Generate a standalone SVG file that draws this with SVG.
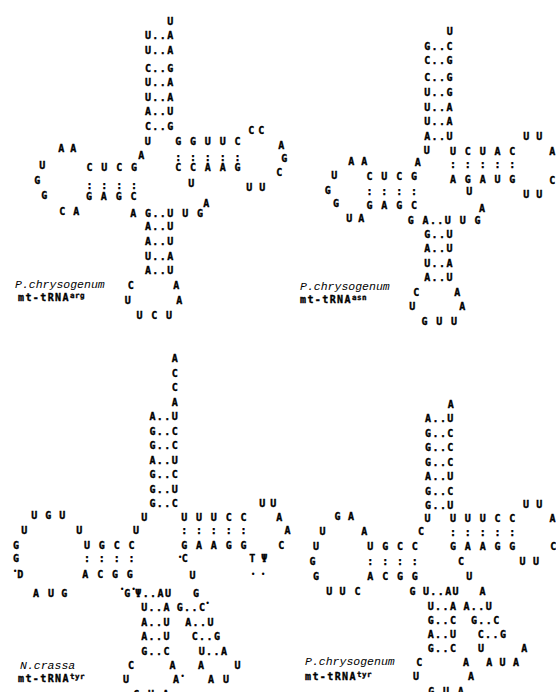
<svg xmlns="http://www.w3.org/2000/svg" width="556" height="692" viewBox="0 0 556 692">
<style>
.b{font-family:"DejaVu Sans Mono","Liberation Mono",monospace;font-weight:bold;font-size:10px;letter-spacing:1.4px;text-anchor:middle;fill:#000;stroke:#000;stroke-width:0.35px}
.d{font-family:"DejaVu Sans",sans-serif;font-size:8px;text-anchor:middle;fill:#000}
.sp{font-family:"Liberation Mono",monospace;font-style:italic;font-size:11.5px;fill:#000}
.lb{font-family:"DejaVu Sans Mono","Liberation Mono",monospace;font-weight:bold;font-size:10px;letter-spacing:1.4px;fill:#000;stroke:#000;stroke-width:0.35px}
.sup{font-size:7.5px;letter-spacing:0.5px}
</style>
<rect width="556" height="692" fill="#fff"/>
<g id="trna-arg">
<text class="b" x="171" y="24.5">U</text>
<text class="b" x="159.8" y="39">U..A</text>
<text class="b" x="159.8" y="53.5">U..A</text>
<text class="b" x="159.8" y="71.5">C..G</text>
<text class="b" x="159.8" y="86">U..A</text>
<text class="b" x="159.8" y="100.5">U..A</text>
<text class="b" x="159.8" y="115">A..U</text>
<text class="b" x="159.8" y="129.5">C..G</text>
<text class="b" x="148.5" y="144.5">U</text>
<text class="b" x="208.6" y="145">G G U U C</text>
<text class="b" x="208.6" y="161">: : : : :</text>
<text class="b" x="208.6" y="171">C C A A G</text>
<text class="b" x="252" y="133.5">C</text>
<text class="b" x="262" y="133.5">C</text>
<text class="b" x="282" y="149">A</text>
<text class="b" x="285" y="161.5">G</text>
<text class="b" x="280" y="175.5">C</text>
<text class="b" x="250" y="190.5">U</text>
<text class="b" x="263" y="190.5">U</text>
<text class="b" x="192" y="187">U</text>
<text class="b" x="207" y="207">A</text>
<text class="b" x="142" y="159">A</text>
<text class="b" x="62" y="152">A</text>
<text class="b" x="74" y="152">A</text>
<text class="b" x="43" y="168.5">U</text>
<text class="b" x="112.5" y="171">C U C G</text>
<text class="b" x="38" y="183.5">G</text>
<text class="b" x="112.5" y="188.5">: : : :</text>
<text class="b" x="45" y="198.5">G</text>
<text class="b" x="112" y="199.5">G A G C</text>
<text class="b" x="63" y="214.5">C</text>
<text class="b" x="77" y="214.5">A</text>
<text class="b" x="167.3" y="217">A G..U U G</text>
<text class="b" x="159.8" y="229.5">A..U</text>
<text class="b" x="159.8" y="244.5">A..U</text>
<text class="b" x="159.8" y="259.5">U..A</text>
<text class="b" x="159.8" y="274">A..U</text>
<text class="b" x="131.5" y="288.5">C</text>
<text class="b" x="177" y="288.5">A</text>
<text class="b" x="128.5" y="303.5">U</text>
<text class="b" x="180" y="303.5">A</text>
<text class="b" x="155" y="318.5">U C U</text>
<text class="sp" x="15" y="288">P.chrysogenum</text>
<text class="lb" x="18" y="301">mt-tRNA<tspan class="sup" dy="-3.5">arg</tspan></text>
</g>
<g id="trna-asn">
<text class="b" x="450.5" y="35">U</text>
<text class="b" x="439" y="49.5">G..C</text>
<text class="b" x="439" y="64">C..G</text>
<text class="b" x="439" y="81">C..G</text>
<text class="b" x="439" y="96">U..G</text>
<text class="b" x="439" y="110.5">U..A</text>
<text class="b" x="439" y="125">U..A</text>
<text class="b" x="439" y="139.5">A..U</text>
<text class="b" x="427.5" y="154">U</text>
<text class="b" x="483.4" y="155">U C U A C</text>
<text class="b" x="483.4" y="168">: : : : :</text>
<text class="b" x="483.4" y="182.5">A G A U G</text>
<text class="b" x="527" y="139.5">U</text>
<text class="b" x="540" y="139.5">U</text>
<text class="b" x="553" y="154.5">A</text>
<text class="b" x="553" y="184">C</text>
<text class="b" x="527" y="198">U</text>
<text class="b" x="540" y="198">U</text>
<text class="b" x="470" y="194.5">U</text>
<text class="b" x="482.7" y="212">A</text>
<text class="b" x="418.5" y="166">A</text>
<text class="b" x="352" y="165">A</text>
<text class="b" x="365" y="165">A</text>
<text class="b" x="335" y="178.5">U</text>
<text class="b" x="392.5" y="180">C U C G</text>
<text class="b" x="328.5" y="193.5">G</text>
<text class="b" x="392.5" y="194.5">: : : :</text>
<text class="b" x="336.7" y="207">G</text>
<text class="b" x="392.5" y="208.5">G A G C</text>
<text class="b" x="350" y="222">U</text>
<text class="b" x="362" y="222">A</text>
<text class="b" x="444.8" y="223.5">G A..U U G</text>
<text class="b" x="439" y="237.5">G..U</text>
<text class="b" x="439" y="252">A..U</text>
<text class="b" x="439" y="266.5">U..A</text>
<text class="b" x="439" y="281">A..U</text>
<text class="b" x="417" y="295.5">C</text>
<text class="b" x="458" y="295.5">A</text>
<text class="b" x="413" y="310">U</text>
<text class="b" x="463" y="310">A</text>
<text class="b" x="440" y="324.5">G U U</text>
<text class="sp" x="300" y="290">P.chrysogenum</text>
<text class="lb" x="300" y="303">mt-tRNA<tspan class="sup" dy="-3.5">asn</tspan></text>
</g>
<g id="trna-tyr-ncrassa">
<text class="b" x="175.5" y="362">A</text>
<text class="b" x="175.5" y="376.5">C</text>
<text class="b" x="175.5" y="391">C</text>
<text class="b" x="175.5" y="405.5">A</text>
<text class="b" x="164.3" y="420">A..U</text>
<text class="b" x="164.3" y="434.5">G..C</text>
<text class="b" x="164.3" y="449">G..C</text>
<text class="b" x="164.3" y="463.5">A..U</text>
<text class="b" x="164.3" y="478">G..C</text>
<text class="b" x="164.3" y="492.5">G..U</text>
<text class="b" x="164.3" y="507">G..C</text>
<text class="b" x="145" y="520.5">U</text>
<text class="b" x="214.6" y="520.5">U U U C C</text>
<text class="b" x="214.6" y="534">: : : : :</text>
<text class="b" x="214.6" y="548.5">G A A G G</text>
<text class="d" x="180" y="560">•</text>
<text class="b" x="185.5" y="562">C</text>
<text class="b" x="193.3" y="578.5">U</text>
<text class="b" x="263" y="506.5">U</text>
<text class="b" x="274" y="506.5">U</text>
<text class="b" x="280" y="520.5">A</text>
<text class="b" x="288.3" y="534">A</text>
<text class="b" x="282" y="548.5">C</text>
<text class="b" x="253" y="562">T</text>
<text class="b" x="265" y="562">Ψ</text>
<text class="d" x="253" y="577">•</text>
<text class="d" x="263" y="577">•</text>
<text class="b" x="136.7" y="534">U</text>
<text class="b" x="35" y="518.5">U</text>
<text class="b" x="49" y="518.5">G</text>
<text class="b" x="63" y="518.5">U</text>
<text class="b" x="25" y="534">U</text>
<text class="b" x="80" y="534">U</text>
<text class="b" x="16.7" y="548.5">G</text>
<text class="b" x="110" y="548.5">U G C C</text>
<text class="b" x="16.7" y="562">G</text>
<text class="b" x="110" y="562">: : : :</text>
<text class="d" x="15" y="574">•</text>
<text class="b" x="21" y="578">D</text>
<text class="b" x="108.3" y="578">A C G G</text>
<text class="b" x="36.7" y="596.5">A</text>
<text class="b" x="51.7" y="596.5">U</text>
<text class="b" x="65" y="596.5">G</text>
<text class="d" x="122" y="592">•</text>
<text class="b" x="128" y="596.5">G</text>
<text class="d" x="133.5" y="592">•</text>
<text class="b" x="153.8" y="596.5">Ψ..AU</text>
<text class="b" x="196.7" y="596.5">G</text>
<text class="b" x="156" y="611">U..A</text>
<text class="b" x="191.5" y="611">G..C</text>
<text class="d" x="207.5" y="606">•</text>
<text class="b" x="156" y="625.5">A..U</text>
<text class="b" x="200" y="625.5">A..U</text>
<text class="b" x="156" y="640">A..U</text>
<text class="b" x="206.5" y="640">C..G</text>
<text class="b" x="156" y="654.5">G..C</text>
<text class="b" x="213.5" y="654.5">U..A</text>
<text class="b" x="131.7" y="668.5">C</text>
<text class="b" x="173.3" y="668.5">A</text>
<text class="b" x="201.7" y="668.5">A</text>
<text class="b" x="238.3" y="668.5">U</text>
<text class="b" x="126.7" y="683">U</text>
<text class="b" x="176.7" y="683">A</text>
<text class="d" x="182.5" y="679">•</text>
<text class="b" x="211.7" y="683">A</text>
<text class="b" x="226.7" y="683">U</text>
<text class="b" x="151.7" y="697.5">C U A</text>
<text class="sp" x="20" y="668.5">N.crassa</text>
<text class="lb" x="18" y="682">mt-tRNA<tspan class="sup" dy="-3.5">tyr</tspan></text>
</g>
<g id="trna-tyr-pchrys">
<text class="b" x="451.5" y="407.5">A</text>
<text class="b" x="439.9" y="422">A..U</text>
<text class="b" x="439.9" y="436.5">G..C</text>
<text class="b" x="439.9" y="451">G..C</text>
<text class="b" x="439.9" y="465.5">G..C</text>
<text class="b" x="439.9" y="480">A..U</text>
<text class="b" x="439.9" y="494.5">G..C</text>
<text class="b" x="439.9" y="508.5">G..U</text>
<text class="b" x="428.3" y="521.8">U</text>
<text class="b" x="483.4" y="521.8">U U U C C</text>
<text class="b" x="526.7" y="507.5">U</text>
<text class="b" x="540" y="507.5">U</text>
<text class="b" x="553.3" y="521.8">A</text>
<text class="b" x="483.4" y="536">: : : : :</text>
<text class="b" x="483.4" y="550">G A A G G</text>
<text class="b" x="554" y="550">C</text>
<text class="b" x="461.7" y="565">C</text>
<text class="b" x="523.3" y="565">U</text>
<text class="b" x="536.7" y="565">U</text>
<text class="b" x="470" y="580">U</text>
<text class="b" x="483.3" y="595">A</text>
<text class="b" x="338.3" y="520">G</text>
<text class="b" x="351.7" y="520">A</text>
<text class="b" x="323.3" y="535">U</text>
<text class="b" x="365" y="535">A</text>
<text class="b" x="421.7" y="535">C</text>
<text class="b" x="316.7" y="550">U</text>
<text class="b" x="393.3" y="550">U G C C</text>
<text class="b" x="313.3" y="565">G</text>
<text class="b" x="393.3" y="565">: : : :</text>
<text class="b" x="316.7" y="580">G</text>
<text class="b" x="393.3" y="580">A C G G</text>
<text class="b" x="330" y="595">U</text>
<text class="b" x="343.3" y="595">U</text>
<text class="b" x="358.3" y="595">C</text>
<text class="b" x="413.3" y="595">G</text>
<text class="b" x="441.5" y="595">U..AU</text>
<text class="b" x="442.5" y="610">U..A</text>
<text class="b" x="478.3" y="610">A..U</text>
<text class="b" x="442.5" y="623.5">G..C</text>
<text class="b" x="485.8" y="623.5">G..C</text>
<text class="b" x="442.5" y="638">A..U</text>
<text class="b" x="492.5" y="638">C..G</text>
<text class="b" x="442.5" y="652">G..C</text>
<text class="b" x="481.7" y="652">U</text>
<text class="b" x="525" y="652">A</text>
<text class="b" x="420" y="665.5">C</text>
<text class="b" x="466.7" y="665.5">A</text>
<text class="b" x="490" y="665.5">A</text>
<text class="b" x="503.3" y="665.5">U</text>
<text class="b" x="516.7" y="665.5">A</text>
<text class="b" x="416.7" y="680">U</text>
<text class="b" x="471.7" y="680">A</text>
<text class="b" x="446.7" y="694.5">G U A</text>
<text class="sp" x="305" y="665">P.chrysogenum</text>
<text class="lb" x="305" y="680">mt-tRNA<tspan class="sup" dy="-3.5">tyr</tspan></text>
</g>
<g id="connectors"></g>
</svg>
